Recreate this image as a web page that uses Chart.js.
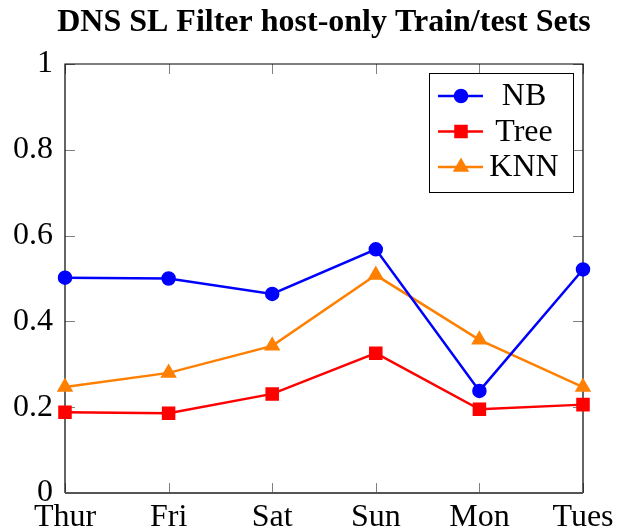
<!DOCTYPE html>
<html><head><meta charset="utf-8">
<script src="https://cdn.jsdelivr.net/npm/chart.js@4.4.0/dist/chart.umd.min.js"></script>
<style>html,body{margin:0;padding:0;background:#fff}</style>
</head><body><canvas id="c" width="624" height="531"></canvas>
<script>
const categories = ['Thur', 'Fri', 'Sat', 'Sun', 'Mon', 'Tues'];
const nbValues = [0.502, 0.500, 0.464, 0.568, 0.238, 0.521];
const treeValues = [0.188, 0.186, 0.231, 0.326, 0.195, 0.206];
const knnValues = [0.247, 0.280, 0.343, 0.508, 0.357, 0.247];
const yTicks = [0, 0.2, 0.4, 0.6, 0.8, 1];
const seriesNames = ['NB', 'Tree', 'KNN'];
const titleText = 'DNS SL Filter host-only Train/test Sets';

const FONT = "'Liberation Serif', 'Times New Roman', serif";
const FS = 32;

const boxAndTicks = {
  id: 'boxAndTicks',
  beforeDatasetsDraw(chart) {
    const ctx = chart.ctx, a = chart.chartArea;
    const xs = chart.scales.x, ys = chart.scales.y;
    ctx.save();
    ctx.strokeStyle = '#808080';
    ctx.lineWidth = 1;
    const L = 10;
    ys.ticks.forEach(t => {
      const y = Math.round(ys.getPixelForValue(t.value)) + 0.5;
      ctx.beginPath();
      ctx.moveTo(a.left, y); ctx.lineTo(a.left + L, y);
      ctx.moveTo(a.right, y); ctx.lineTo(a.right - L, y);
      ctx.stroke();
    });
    categories.forEach((c, i) => {
      const x = Math.round(xs.getPixelForValue(i)) + 0.5;
      ctx.beginPath();
      ctx.moveTo(x, a.bottom); ctx.lineTo(x, a.bottom - L);
      ctx.moveTo(x, a.top); ctx.lineTo(x, a.top + L);
      ctx.stroke();
    });
    ctx.strokeStyle = '#000';
    ctx.lineWidth = 1.2;
    ctx.beginPath();
    ctx.moveTo(a.left, a.bottom); ctx.lineTo(a.left, a.top);
    ctx.lineTo(a.right, a.top); ctx.lineTo(a.right, a.bottom);
    ctx.stroke();
    ctx.strokeStyle = '#555';
    ctx.lineWidth = 1.8;
    ctx.beginPath();
    ctx.moveTo(a.left, a.bottom); ctx.lineTo(a.right, a.bottom);
    ctx.stroke();
    ctx.restore();
  },
  afterDraw(chart) {
    const ctx = chart.ctx, a = chart.chartArea;
    ctx.save();
    // title centred over the plot area
    ctx.fillStyle = '#000';
    ctx.font = 'bold ' + FS + 'px ' + FONT;
    ctx.textAlign = 'center';
    ctx.textBaseline = 'alphabetic';
    ctx.fillText(titleText, (a.left + a.right) / 2, 31);
    // legend
    const bx = a.right - 154, by = a.top + 9, bw = 144, bh = 119;
    ctx.fillStyle = '#fff';
    ctx.fillRect(bx, by, bw, bh);
    ctx.strokeStyle = '#000';
    ctx.lineWidth = 1;
    ctx.strokeRect(bx + 0.5, by + 0.5, bw, bh);
    chart.data.datasets.forEach((ds, i) => {
      const y = by + 23 + i * 35.5;
      ctx.strokeStyle = ds.borderColor;
      ctx.lineWidth = ds.borderWidth;
      ctx.beginPath();
      ctx.moveTo(bx + 9, y); ctx.lineTo(bx + 54, y);
      ctx.stroke();
      Chart.helpers.drawPoint(ctx, {pointStyle: ds.pointStyle, radius: ds.pointRadius, borderWidth: 1, rotation: 0}, bx + 32, y);
      ctx.fillStyle = ds.borderColor;
      ctx.fill();
      ctx.fillStyle = '#000';
      ctx.font = FS + 'px ' + FONT;
      ctx.textAlign = 'center';
      ctx.textBaseline = 'middle';
      ctx.fillText(ds.label, bx + 95, y + 1);
    });
    ctx.restore();
  }
};

const mk = (label, data, color, style, r) => ({
  label, data,
  borderColor: color, backgroundColor: color,
  pointBackgroundColor: color, pointBorderColor: color,
  pointStyle: style, pointRadius: r, pointHoverRadius: r,
  borderWidth: 2.5, tension: 0, clip: false
});

new Chart(document.getElementById('c'), {
  type: 'line',
  data: {
    labels: categories,
    datasets: [
      mk(seriesNames[0], nbValues, '#0000ff', 'circle', 6),
      mk(seriesNames[1], treeValues, '#ff0000', 'rect', 7.8),
      mk(seriesNames[2], knnValues, '#ff8000', 'triangle', 7)
    ]
  },
  options: {
    responsive: false,
    animation: false,
    devicePixelRatio: 1,
    layout: {padding: {left: 0, right: 41, top: 64, bottom: 0}},
    plugins: {
      legend: {display: false},
      tooltip: {enabled: false},
      title: {display: false}
    },
    scales: {
      x: {
        type: 'category', offset: false,
        grid: {display: false, drawTicks: false},
        border: {display: false},
        ticks: {color: '#000', font: {family: FONT, size: FS}, padding: 5, maxRotation: 0, autoSkip: false},
        afterFit: s => { s.height = 38; }
      },
      y: {
        min: 0, max: 1,
        grid: {display: false, drawTicks: false},
        border: {display: false},
        afterBuildTicks: s => { s.ticks = yTicks.map(v => ({value: v})); },
        ticks: {color: '#000', font: {family: FONT, size: FS}, padding: 12, callback: v => String(v)},
        afterFit: s => { s.width = 65; }
      }
    }
  },
  plugins: [boxAndTicks]
});
</script>
</body></html>
